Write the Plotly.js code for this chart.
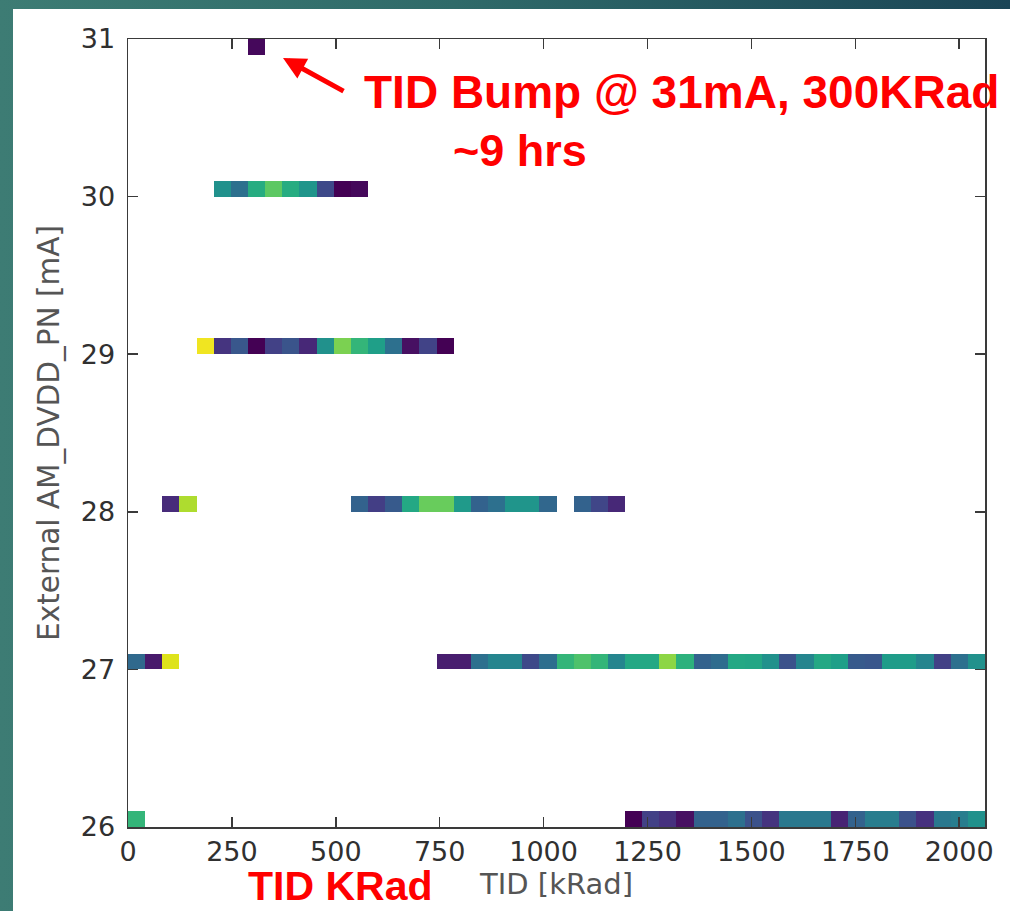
<!DOCTYPE html>
<html>
<head>
<meta charset="utf-8">
<script src="https://cdn.plot.ly/plotly-3.0.1.min.js"></script>
<style>
  html, body { margin: 0; padding: 0; width: 1010px; height: 911px; overflow: hidden; }
  body { background: linear-gradient(to right, #3d7c74 0%, #2f6a69 45%, #1b4556 100%); position: relative; }
  #chart { position: absolute; left: 13px; top: 9px; width: 997px; height: 902px; background: #ffffff; }
</style>
</head>
<body>
<div id="chart"></div>
<script>
// ---- data (2D histogram, viridis-normalised cell value 0..1) ----
const TID_MAX = 2062;          // kRad, right edge of last TID bin
const N_TID_BINS = 50;
const I_MIN = 26, I_MAX = 31;  // mA
const N_I_BINS = 50;
const xTicks = [0, 250, 500, 750, 1000, 1250, 1500, 1750, 2000];
const yTicks = [26, 27, 28, 29, 30, 31];

// each entry: [first TID bin index, values for consecutive bins]
const i26 = [[0, [0.66]],
             [29, [0.00, 0.19, 0.14, 0.04, 0.31, 0.31, 0.37, 0.25, 0.15, 0.40, 0.40,
                   0.40, 0.10, 0.31, 0.42, 0.42, 0.25, 0.14, 0.40, 0.42, 0.50]]];
const i27 = [[0, [0.34, 0.07, 0.95]],
             [18, [0.08, 0.08, 0.37, 0.45, 0.45, 0.22, 0.36, 0.66, 0.72, 0.66, 0.45,
                   0.60, 0.60, 0.83, 0.64, 0.31, 0.35, 0.60, 0.59, 0.50, 0.25, 0.45,
                   0.60, 0.56, 0.28, 0.27, 0.55, 0.55, 0.45, 0.19, 0.37, 0.50]]];
const i28 = [[2, [0.12, 0.88]],
             [13, [0.31, 0.18, 0.28, 0.60, 0.77, 0.77, 0.54, 0.31, 0.37, 0.52, 0.52, 0.33]],
             [26, [0.31, 0.21, 0.11]]];
const i29 = [[4, [0.98, 0.15, 0.27, 0.00, 0.19, 0.26, 0.11, 0.50, 0.80, 0.66, 0.56,
                  0.37, 0.04, 0.20, 0.00]]];
const i30 = [[5, [0.50, 0.37, 0.62, 0.75, 0.62, 0.52, 0.22, 0.00, 0.02]]];
const i31 = [[7, [0.02]]];
const rows = [[26, i26], [27, i27], [28, i28], [29, i29], [30, i30], [31, i31]];

// ---- build histogram grid ----
const dxBin = TID_MAX / N_TID_BINS;
const dyBin = (I_MAX - I_MIN) / N_I_BINS;
const z = [];
for (let r = 0; r < N_I_BINS; r++) { z.push(new Array(N_TID_BINS).fill(null)); }
rows.forEach(([cur, segs]) => {
  let r = Math.min(N_I_BINS - 1, Math.floor((cur - I_MIN) / dyBin + 1e-6));
  segs.forEach(([start, vals]) => {
    vals.forEach((v, k) => { z[r][start + k] = v; });
  });
});

const trace = {
  type: 'heatmap',
  z: z,
  x0: dxBin / 2, dx: dxBin,
  y0: I_MIN + dyBin / 2, dy: dyBin,
  colorscale: 'Viridis',
  zmin: 0, zmax: 1,
  showscale: false,
  hoverongaps: false,
  zsmooth: false
};

const axisCommon = {
  showgrid: false, zeroline: false,
  showline: true, linecolor: '#3a3a3a', linewidth: 1.5,
  mirror: 'ticks',
  ticks: 'inside', ticklen: 10, tickwidth: 1.5, tickcolor: '#3a3a3a',
  tickfont: { family: 'DejaVu Sans', size: 27, color: '#303030' }
};

const layout = {
  width: 997, height: 902,
  margin: { l: 115, r: 25, t: 30, b: 84 },
  paper_bgcolor: '#ffffff', plot_bgcolor: '#ffffff',
  xaxis: Object.assign({}, axisCommon, {
    range: [0, TID_MAX], tickvals: xTicks,
    ticklabelstandoff: 0,
    title: { text: 'TID [kRad]', font: { family: 'DejaVu Sans', size: 29, color: '#555555' }, standoff: 6 }
  }),
  yaxis: Object.assign({}, axisCommon, {
    range: [I_MIN, I_MAX], tickvals: yTicks,
    ticklabelstandoff: 6,
    title: { text: 'External AM_DVDD_PN [mA]', font: { family: 'DejaVu Sans', size: 29.5, color: '#555555' }, standoff: 12 }
  }),
  annotations: [
    { xref: 'x', yref: 'y', x: 373, y: 30.88, ax: 62, ay: 34, axref: 'pixel', ayref: 'pixel',
      text: '', showarrow: true, arrowcolor: '#ff0000', arrowwidth: 5, arrowhead: 2, arrowsize: 0.9, standoff: 0 },
    { xref: 'paper', yref: 'paper', x: 0.2735, y: 0.9327, xanchor: 'left', yanchor: 'middle',
      text: '<b>TID Bump @ 31mA, 300KRad</b>', showarrow: false,
      font: { family: 'Liberation Sans', size: 46, color: '#ff0000' } },
    { xref: 'paper', yref: 'paper', x: 0.4574, y: 0.859, xanchor: 'center', yanchor: 'middle',
      text: '<b>~9 hrs</b>', showarrow: false,
      font: { family: 'Liberation Sans', size: 45, color: '#ff0000' } },
    { xref: 'paper', yref: 'paper', x: 0.2474, y: -0.0755, xanchor: 'center', yanchor: 'middle',
      text: '<b>TID KRad</b>', showarrow: false, borderpad: 0,
      font: { family: 'Liberation Sans', size: 41, color: '#ff0000' } }
  ]
};

Plotly.newPlot('chart', [trace], layout, { displayModeBar: false, staticPlot: true });
</script>
</body>
</html>
